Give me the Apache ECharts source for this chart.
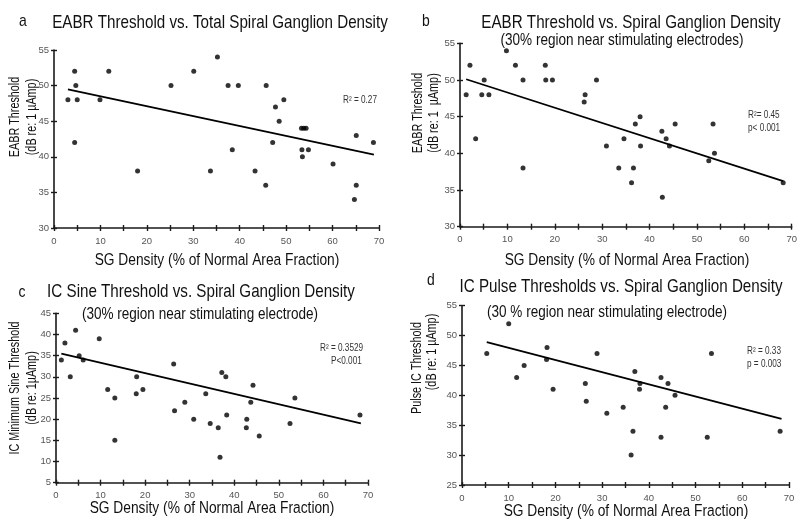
<!DOCTYPE html>
<html><head><meta charset="utf-8">
<script src="https://cdn.jsdelivr.net/npm/echarts@6/dist/echarts.min.js"></script>
<style>html,body{margin:0;padding:0;background:#fff}#c{width:800px;height:530px}</style>
</head><body><div id="c"></div>
<script>
// Panel a: EABR threshold vs total SG density
const aX = [3.0, 4.45, 4.7, 5.0, 4.45, 9.9, 11.8, 18.0, 25.2, 30.1, 33.7, 35.2, 37.5, 39.7, 45.7, 47.7, 49.5, 48.5, 53.3, 53.8, 54.3, 47.1, 38.4, 53.4, 54.8, 53.5, 43.3, 60.1, 45.6, 65.1, 68.8, 65.1, 64.7];
const aY = [48, 52, 50, 48, 42, 48, 52, 38, 50, 52, 38, 54, 50, 50, 50, 47, 48, 45, 44, 44, 44, 42, 41, 41, 41, 40, 38, 39, 36, 43, 42, 36, 34];
const aFitX = [3.0, 68.9];
const aFitY = [49.47, 40.3];
// Panel b: EABR threshold vs SG density (30% region)
const bX = [1.3, 2.1, 3.3, 4.6, 5.1, 6.1, 9.8, 11.7, 13.3, 13.3, 18.0, 18.1, 19.5, 26.4, 26.2, 28.8, 30.9, 33.5, 34.6, 37.0, 38.0, 38.1, 36.6, 36.2, 42.6, 43.5, 44.2, 45.4, 42.7, 52.5, 53.4, 53.7, 68.2];
const bY = [48, 52, 42, 48, 50, 48, 54, 52, 50, 38, 52, 50, 50, 48, 47, 50, 41, 38, 42, 44, 45, 41, 38, 36, 43, 42, 41, 44, 34, 39, 44, 40, 36];
const bFitX = [1.3, 68.2];
const bFitY = [50.1, 36.2];
// Panel c: IC minimum sine threshold
const cX = [1.2, 2.0, 3.2, 4.4, 5.2, 6.1, 9.7, 11.6, 13.2, 13.2, 18.1, 18.0, 19.5, 26.4, 26.6, 28.9, 30.9, 33.6, 34.6, 36.4, 36.8, 37.2, 38.1, 38.3, 44.2, 43.7, 42.8, 42.7, 45.6, 53.6, 52.5, 68.2];
const cY = [34, 38, 30, 41, 35, 34, 39, 27, 25, 15, 30, 26, 27, 33, 22, 24, 20, 26, 19, 18, 11, 31, 30, 21, 28, 24, 20, 18, 16, 25, 19, 21];
const cFitX = [1.2, 68.4];
const cFitY = [35.5, 19.0];
// Panel d: Pulse IC threshold
const dX = [5.3, 10.0, 11.7, 13.3, 18.2, 18.1, 19.5, 26.4, 26.6, 28.9, 31.0, 34.5, 37.0, 38.1, 38.0, 36.6, 36.2, 42.6, 44.1, 45.6, 43.6, 42.6, 52.5, 53.4, 68.1];
const dY = [47, 52, 43, 45, 48, 46, 41, 42, 39, 47, 37, 38, 44, 42, 41, 34, 30, 43, 42, 40, 38, 33, 33, 47, 34];
const dFitX = [5.3, 68.4];
const dFitY = [48.9, 36.05];

const xRange = [0, 70];
const yRanges = [[30, 55], [30, 55], [5, 45], [25, 55]];
const xTitle = 'SG Density (% of Normal Area Fraction)';
const panelLetters = ['a', 'b', 'c', 'd'];
const titles = ['EABR Threshold vs. Total Spiral Ganglion Density', 'EABR Threshold vs. Spiral Ganglion Density',
  'IC Sine Threshold vs. Spiral Ganglion Density', 'IC Pulse Thresholds vs. Spiral Ganglion Density'];
const subtitles = ['', '(30% region near stimulating electrodes)', '(30% region near stimulating electrode)', '(30 % region near stimulating electrode)'];
const yTitles1 = ['EABR Threshold', 'EABR Threshold', 'IC Minimum Sine Threshold', 'Pulse IC Threshold'];
const yTitles2 = ['(dB re: 1 \u00b5Amp)', '(dB re: 1  \u00b5Amp)', '(dB re: 1\u00b5Amp)', '(dB re: 1 \u00b5Amp)'];
const stats1 = ['R\u00b2 = 0.27', 'R\u00b2= 0.45', 'R\u00b2 = 0.3529', 'R\u00b2 = 0.33'];
const stats2 = ['', 'p< 0.001', 'P<0.001', 'p = 0.003'];

const FONT = "'Liberation Sans',Arial,Helvetica,sans-serif";
const SQ = 0.82;   // narrow-font look
const SQY = 0.72;  // for rotated axis names
const zip = (xs, ys) => xs.map((x, i) => [x, ys[i]]);
const pts = [zip(aX, aY), zip(bX, bY), zip(cX, cY), zip(dX, dY)];
const fits = [zip(aFitX, aFitY), zip(bFitX, bFitY), zip(cFitX, cFitY), zip(dFitX, dFitY)];

const grids = [
  {left: 54, top: 50, width: 325, height: 178},
  {left: 460, top: 43.3, width: 332, height: 183.4},
  {left: 56, top: 313.3, width: 312, height: 169.4},
  {left: 462, top: 305.7, width: 327, height: 179.3}
];

const xAxes = [], yAxes = [], series = [];
grids.forEach((g, i) => {
  const line = {show: true, lineStyle: {color: '#1a1a1a', width: 1.6}};
  xAxes.push({type: 'value', gridIndex: i, position: 'bottom', min: xRange[0], max: xRange[1], interval: 5,
    axisLine: line, splitLine: {show: false},
    axisTick: {show: true, length: 3, lineStyle: {color: '#1a1a1a', width: 1.4}},
    axisLabel: {fontSize: 9.5, fontFamily: FONT, color: '#555', margin: 8,
      formatter: v => (v % 10 === 0 ? String(v) : '')}});
  xAxes.push({type: 'value', gridIndex: i, position: 'bottom', min: xRange[0], max: xRange[1], interval: 5,
    axisLine: {show: false}, splitLine: {show: false}, axisLabel: {show: false},
    axisTick: {show: true, inside: true, length: 3, lineStyle: {color: '#1a1a1a', width: 1.4}}});
  yAxes.push({type: 'value', gridIndex: i, position: 'left', min: yRanges[i][0], max: yRanges[i][1], interval: 5,
    axisLine: line, splitLine: {show: false},
    axisTick: {show: true, length: 3, lineStyle: {color: '#1a1a1a', width: 1.4}},
    axisLabel: {fontSize: 9.5, fontFamily: FONT, color: '#555', margin: 5}});
  yAxes.push({type: 'value', gridIndex: i, position: 'left', min: yRanges[i][0], max: yRanges[i][1], interval: 5,
    axisLine: {show: false}, splitLine: {show: false}, axisLabel: {show: false},
    axisTick: {show: true, inside: true, length: 3, lineStyle: {color: '#1a1a1a', width: 1.4}}});
  series.push({type: 'scatter', xAxisIndex: 2 * i, yAxisIndex: 2 * i, data: pts[i], symbol: 'circle', symbolSize: 5,
    itemStyle: {color: '#000'}, silent: true, z: 3});
  series.push({type: 'line', xAxisIndex: 2 * i, yAxisIndex: 2 * i, data: fits[i], symbol: 'none',
    lineStyle: {color: '#000', width: 1.8}, silent: true, z: 2});
});

// text placement (pixels)
const letterPos = [[23, 21], [426, 21], [22, 292], [431, 280]];
const titlePos = [[220, 23], [631, 23], [201, 292], [621, 287]];
const subPos = [null, [622, 40], [200, 314], [607, 312]];
const xNamePos = [[217, 260], [627, 260], [212, 508], [626, 511]];
const yName1Pos = [[15, 117], [418, 113], [15, 388], [417, 368]];
const yName2Pos = [[32, 117], [434, 113], [32, 388], [432, 352]];
const statPos = [[343, 100], [748, 115], [320, 348], [747, 351]];
const stat2Pos = [null, [748, 128], [331, 361], [747, 364]];

const graphic = [];
const txt = (text, x, y, size, opts = {}) => ({
  type: 'text', x, y, rotation: opts.rot || 0, silent: true,
  scaleX: opts.rot ? SQY : SQ, scaleY: 1,
  style: {text, fontSize: size, fontFamily: FONT, fill: opts.fill || '#111',
    align: opts.align || 'center', verticalAlign: 'middle'}
});
for (let i = 0; i < 4; i++) {
  graphic.push(txt(panelLetters[i], letterPos[i][0], letterPos[i][1], 17));
  graphic.push(txt(titles[i], titlePos[i][0], titlePos[i][1], 18.5));
  if (subPos[i]) graphic.push(txt(subtitles[i], subPos[i][0], subPos[i][1], 16.5));
  graphic.push(txt(xTitle, xNamePos[i][0], xNamePos[i][1], 16.8));
  graphic.push(txt(yTitles1[i], yName1Pos[i][0], yName1Pos[i][1], 15, {rot: Math.PI / 2}));
  graphic.push(txt(yTitles2[i], yName2Pos[i][0], yName2Pos[i][1], 15, {rot: Math.PI / 2}));
  graphic.push(txt(stats1[i], statPos[i][0], statPos[i][1], 10, {align: 'left', fill: '#333'}));
  if (stat2Pos[i]) graphic.push(txt(stats2[i], stat2Pos[i][0], stat2Pos[i][1], 10, {align: 'left', fill: '#333'}));
}

const chart = echarts.init(document.getElementById('c'), null, {renderer: 'canvas'});
chart.setOption({
  animation: false,
  backgroundColor: '#fff',
  grid: grids.map(g => Object.assign({containLabel: false}, g)),
  xAxis: xAxes,
  yAxis: yAxes,
  series: series,
  graphic: graphic
});
</script>
</body></html>
